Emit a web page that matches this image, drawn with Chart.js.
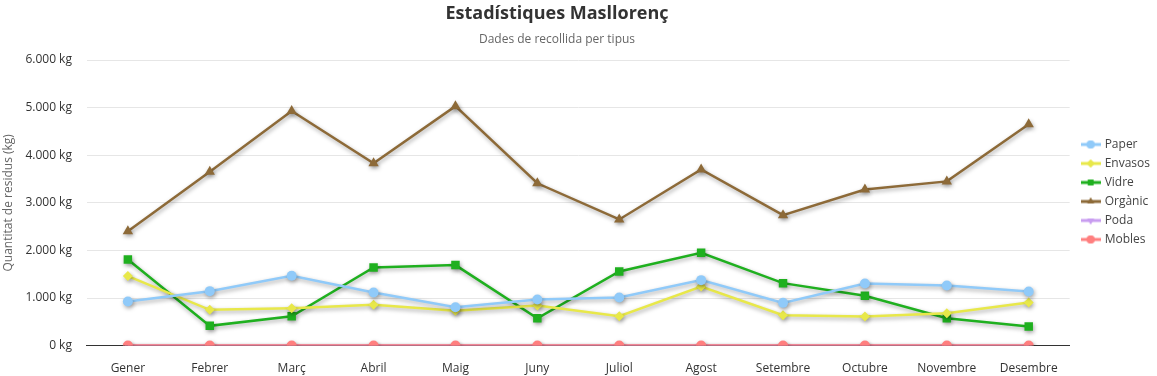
<!DOCTYPE html>
<html><head><meta charset="utf-8">
<script src="https://cdn.jsdelivr.net/npm/chart.js@4/dist/chart.umd.min.js"></script>
<style>html,body{margin:0;padding:0;background:#fff}#wrap{width:1157px;height:376px}</style>
</head><body><div id="wrap"><canvas id="c"></canvas></div>
<script>
const months = ['Gener','Febrer','Març','Abril','Maig','Juny','Juliol','Agost','Setembre','Octubre','Novembre','Desembre'];
const paper   = [926,1144,1467,1116,807,968,1010,1375,898,1305,1263,1137];
const envasos = [1460,751,786,856,730,842,617,1242,638,610,680,905];
const vidre   = [1810,415,617,1642,1691,575,1558,1951,1312,1046,575,400];
const organic = [2400,3650,4930,3830,5030,3410,2650,3700,2740,3280,3450,4650];
const poda    = [0,0,0,0,0,0,0,0,0,0,0,0];
const mobles  = [0,0,0,0,0,0,0,0,0,0,0,0];
const yTicks = [0,1000,2000,3000,4000,5000,6000];

const FONT = "'Open Sans', 'Noto Sans', sans-serif";
Chart.defaults.font.family = FONT;

const series = [
  {label:'Paper', data:paper, color:'#90caf9', style:'circle', r:5},
  {label:'Envasos', data:envasos, color:'#e8e84a', style:'rectRot', r:5},
  {label:'Vidre', data:vidre, color:'#1fb01f', style:'rect', r:6},
  {label:'Orgànic', data:organic, color:'#8d6a38', style:'triangle', r:6},
  {label:'Poda', data:poda, color:'#c89cf0', style:'triangle', r:5, rot:180},
  {label:'Mobles', data:mobles, color:'#ff7f7f', style:'circle', r:5, order:-1}
];

function legendIcon(s){
  const cv = document.createElement('canvas');
  cv.width = 20; cv.height = 12;
  const c = cv.getContext('2d');
  c.strokeStyle = s.color; c.lineWidth = 3;
  c.beginPath(); c.moveTo(0,6); c.lineTo(20,6); c.stroke();
  c.fillStyle = s.color;
  Chart.helpers.drawPoint(c, {pointStyle:s.style, radius:4, rotation:s.rot||0, borderWidth:0}, 10, 6);
  c.fill();
  return cv;
}

const shadow = {
  id:'shadow',
  beforeDatasetDraw(chart){ const c=chart.ctx; c.save(); c.shadowColor='rgba(0,0,0,0.35)'; c.shadowBlur=4; c.shadowOffsetX=1; c.shadowOffsetY=2; },
  afterDatasetDraw(chart){ chart.ctx.restore(); }
};
const layoutShift = {
  id:'layoutShift',
  afterLayout(chart){
    const l=chart.legend; if(l){ l.left += 6; l.right += 6; l.top -= 4; l.bottom -= 4; }
    chart.boxes.forEach(b=>{ if(b!==l && b.position==='top' && b.options && b.options.text!==undefined){ b.left -= 20; b.right -= 20; } });
  }
};

new Chart(document.getElementById('c'), {
  type:'line',
  data:{
    labels:months,
    datasets: series.map(s=>({
      label:s.label, data:s.data, borderColor:s.color, backgroundColor:s.color,
      pointStyle:s.style, pointRadius:s.r, pointRotation:s.rot||0, pointBorderWidth:0,
      borderWidth:2.5, tension:0, fill:false, order:s.order||0, _icon:legendIcon(s)
    }))
  },
  options:{
    responsive:true, maintainAspectRatio:false, animation:false,
    layout:{padding:{left:0,right:3,top:0,bottom:-16}},
    plugins:{
      title:{display:true, text:'Estadístiques Masllorenç', color:'#333', font:{size:18, weight:'bold', family:FONT}, padding:{top:3,bottom:6}},
      subtitle:{display:true, text:'Dades de recollida per tipus', color:'#666', font:{size:12, family:FONT}, padding:{top:2,bottom:13}},
      legend:{position:'right', labels:{color:'#444', font:{size:12, family:FONT}, usePointStyle:true, pointStyleWidth:16, boxHeight:12, padding:7,
        generateLabels(chart){
          return chart.data.datasets.map((d,i)=>({text:d.label, pointStyle:d._icon, fillStyle:d.borderColor, strokeStyle:d.borderColor, lineWidth:0, hidden:!chart.isDatasetVisible(i), datasetIndex:i, fontColor:'#444'}));
        }}},
      tooltip:{enabled:false}
    },
    scales:{
      x:{offset:true, grid:{display:false, drawTicks:false}, border:{display:true, color:'#333', width:1},
         ticks:{color:'#333', font:{size:12}, padding:16}},
      y:{min:0, max:6000, afterBuildTicks(ax){ ax.ticks = yTicks.map(v=>({value:v})); },
         grid:{color:'#e6e6e6', drawTicks:false}, border:{display:false},
         ticks:{color:'#333', font:{size:12}, padding:15, callback:v=>v.toLocaleString('de-DE')+' kg'},
         title:{display:true, text:'Quantitat de residus (kg)', color:'#666', font:{size:12}, padding:{top:1,bottom:-5}}}
    }
  },
  plugins:[shadow, layoutShift]
});
</script></body></html>
